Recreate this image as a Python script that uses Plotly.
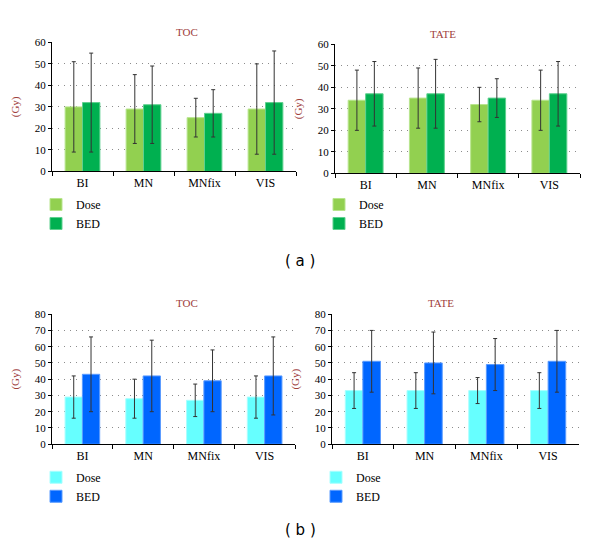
import plotly.graph_objects as go

# ---------------------------------------------------------------------------
# Datos (Gy): media y desviación por método de segmentación
# ---------------------------------------------------------------------------
CATEGORIAS = ["BI", "MN", "MNfix", "VIS"]

# (a) TOC
A_TOC_DOSE = [30, 29, 25, 29]
A_TOC_DOSE_SD = [21, 16, 9, 21]
A_TOC_BED = [32, 31, 27, 32]
A_TOC_BED_SD = [23, 18, 11, 24]

# (a) TATE
A_TATE_DOSE = [34, 35, 32, 34]
A_TATE_DOSE_SD = [14, 14, 8, 14]
A_TATE_BED = [37, 37, 35, 37]
A_TATE_BED_SD = [15, 16, 9, 15]

# (b) TOC
B_TOC_DOSE = [29, 28, 27, 29]
B_TOC_DOSE_SD = [13, 12, 10, 13]
B_TOC_BED = [43, 42, 39, 42]
B_TOC_BED_SD = [23, 22, 19, 24]

# (b) TATE
B_TATE_DOSE = [33, 33, 33, 33]
B_TATE_DOSE_SD = [11, 11, 8, 11]
B_TATE_BED = [51, 50, 49, 51]
B_TATE_BED_SD = [19, 19, 16, 19]

Y_TICKS_A = [0, 10, 20, 30, 40, 50, 60]
Y_TICKS_B = [0, 10, 20, 30, 40, 50, 60, 70, 80]

# ---------------------------------------------------------------------------
# Estilo / geometría (px de pantalla; el body de la página tiene 8px de margen)
# ---------------------------------------------------------------------------
OFF = 8
W, H = 600 - 2 * OFF, 555 - 2 * OFF
SERIF = "Liberation Serif, Times New Roman, serif"
RED = "#A0403C"
COL_A = ("#92D050", "#00B050")
EDGE_A = ("#B8E58E", "#5FD08F")
COL_B = ("#66FFFF", "#0066FF")
EDGE_B = ("#A8FFFF", "#5A9BFF")


def px_x(v):
    return (v - OFF) / W


def px_y(v):
    return 1 - (v - OFF) / H


# (sufijo eje, x px, y px, título, datos, colores, bordes, ticks, leyenda, (x, y) leyenda)
PANELES = [
    ("", (52, 296), (37, 169), "TOC",
     (A_TOC_DOSE, A_TOC_DOSE_SD, A_TOC_BED, A_TOC_BED_SD), COL_A, EDGE_A, Y_TICKS_A, "legend", (36, 188)),
    ("2", (335, 580), (39, 171), "TATE",
     (A_TATE_DOSE, A_TATE_DOSE_SD, A_TATE_BED, A_TATE_BED_SD), COL_A, EDGE_A, Y_TICKS_A, "legend2", (319, 188)),
    ("3", (52, 295), (315, 448), "TOC",
     (B_TOC_DOSE, B_TOC_DOSE_SD, B_TOC_BED, B_TOC_BED_SD), COL_B, EDGE_B, Y_TICKS_B, "legend3", (36, 467)),
    ("4", (332, 579), (315, 448), "TATE",
     (B_TATE_DOSE, B_TATE_DOSE_SD, B_TATE_BED, B_TATE_BED_SD), COL_B, EDGE_B, Y_TICKS_B, "legend4", (316, 467)),
]

fig = go.Figure()
layout = {}
annotations = []

for sfx, (x0, x1), (y0, y1), titulo, datos, cols, edges, yticks, leg, (lx, ly) in PANELES:
    dose, dose_sd, bed, bed_sd = datos
    for nombre, vals, sd, c, e in (("Dose", dose, dose_sd, cols[0], edges[0]),
                                   ("BED", bed, bed_sd, cols[1], edges[1])):
        fig.add_trace(go.Bar(
            x=CATEGORIAS, y=vals, name=nombre,
            marker=dict(color=c, line=dict(color=e, width=1)),
            error_y=dict(type="data", array=sd, visible=True,
                         color="#333333", thickness=1, width=2),
            xaxis="x" + sfx, yaxis="y" + sfx,
            legend=leg,
        ))

    layout["xaxis" + sfx] = dict(
        domain=[px_x(x0), px_x(x1)], anchor="y" + sfx,
        showline=True, linecolor="black", linewidth=1,
        ticks="outside", ticklen=4, tickcolor="black", tickson="boundaries",
        showgrid=False, tickfont=dict(family=SERIF, size=12, color="black"),
    )
    layout["yaxis" + sfx] = dict(
        domain=[px_y(y1), px_y(y0)], anchor="x" + sfx,
        range=[0, yticks[-1]], tickvals=yticks,
        showline=True, linecolor="black", linewidth=1,
        ticks="outside", ticklen=3, tickcolor="black",
        showgrid=True, gridcolor="#8C8C8C", griddash="1px,5px", gridwidth=1,
        zeroline=False,
        tickfont=dict(family=SERIF, size=11, color="black"),
        title=dict(text="(Gy)", font=dict(family=SERIF, size=11, color=RED), standoff=12),
    )
    layout[leg] = dict(
        x=px_x(lx), y=px_y(ly), xanchor="left", yanchor="top",
        orientation="v", bgcolor="rgba(0,0,0,0)", borderwidth=0,
        font=dict(family=SERIF, size=12, color="black"),
        tracegroupgap=0, itemwidth=30,
    )
    annotations.append(dict(
        text=titulo, x=(px_x(x0) + px_x(x1)) / 2, y=px_y(y0 - 11),
        xref="paper", yref="paper", showarrow=False, yanchor="middle",
        font=dict(family=SERIF, size=11, color=RED),
    ))

annotations.append(dict(text="( a )", x=px_x(300), y=px_y(261), xref="paper", yref="paper",
                        showarrow=False, yanchor="middle",
                        font=dict(family="DejaVu Sans", size=15, color="black")))
annotations.append(dict(text="( b )", x=px_x(300), y=px_y(536), xref="paper", yref="paper",
                        showarrow=False, yanchor="middle",
                        font=dict(family="DejaVu Sans", size=15, color="black")))

fig.update_layout(
    width=W, height=H,
    margin=dict(l=0, r=0, t=0, b=0),
    paper_bgcolor="white", plot_bgcolor="white",
    barmode="group", bargap=0.43, bargroupgap=0,
    annotations=annotations,
    **layout,
)

fig.write_html("out.html")
